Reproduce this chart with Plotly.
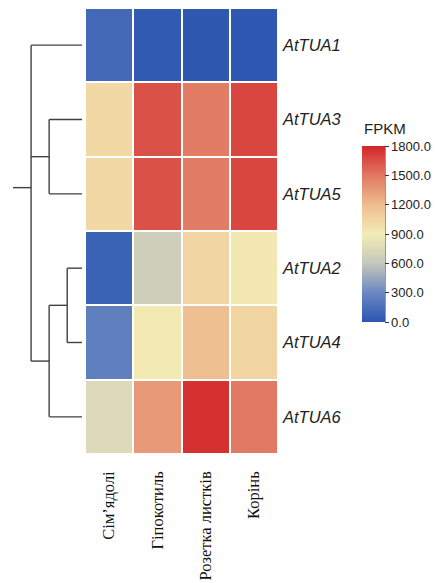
import plotly.graph_objects as go

# Expression data (FPKM) for alpha-tubulin genes across tissues
genes = ["AtTUA1", "AtTUA3", "AtTUA5", "AtTUA2", "AtTUA4", "AtTUA6"]
tissues = ["Сім’ядолі", "Гіпокотиль", "Розетка листків", "Корінь"]
fpkm_tua1 = [115, 30, 25, 20]
fpkm_tua3 = [1030, 1640, 1480, 1680]
fpkm_tua5 = [1030, 1640, 1480, 1680]
fpkm_tua2 = [80, 660, 1050, 930]
fpkm_tua4 = [245, 920, 1180, 1050]
fpkm_tua6 = [750, 1350, 1760, 1490]

# Hierarchical clustering of genes: merged groups and their linkage heights
merge_children = [
    ["AtTUA2", "AtTUA4"],
    ["AtTUA3", "AtTUA5"],
    ["AtTUA2+AtTUA4", "AtTUA6"],
    ["AtTUA1", "AtTUA3+AtTUA5", "AtTUA2+AtTUA4+AtTUA6"],
]
merge_heights = [0.9, 2.0, 2.0, 3.1]
root_stub = 1.1

cbar_ticks = [0, 300, 600, 900, 1200, 1500, 1800]

W, H = 436, 583


def px_x(p):
    return p / W


def px_y(p):
    return 1 - p / H


z = [fpkm_tua1, fpkm_tua3, fpkm_tua5, fpkm_tua2, fpkm_tua4, fpkm_tua6]

colorscale = [
    [0.0, "#2a55b0"],
    [1 / 6, "#6b88c2"],
    [2 / 6, "#c4c8bc"],
    [3 / 6, "#f3ecb6"],
    [4 / 6, "#eebd8e"],
    [5 / 6, "#e17762"],
    [1.0, "#d3262a"],
]

fig = go.Figure()

fig.add_trace(go.Heatmap(
    z=z,
    x=list(range(len(tissues))),
    y=list(range(len(genes))),
    zmin=0, zmax=1800,
    colorscale=colorscale,
    xgap=2, ygap=2,
    hoverinfo="z",
    colorbar=dict(
        x=px_x(362), xanchor="left", xpad=0,
        y=px_y(234), yanchor="middle", ypad=0,
        thickness=23, thicknessmode="pixels",
        len=176, lenmode="pixels",
        outlinewidth=0,
        tickvals=cbar_ticks,
        tickformat=".1f",
        ticks="outside", ticklen=4, tickwidth=1, tickcolor="#333",
        tickfont=dict(family="Liberation Sans, Arial", size=13, color="#222"),
    ),
))

# Dendrogram segments built from the linkage list
pos = {g: (0.0, i) for i, g in enumerate(genes)}
dx, dy = [], []
for children, h in zip(merge_children, merge_heights):
    ys = [pos[c][1] for c in children]
    for c in children:
        cx, cy = pos[c]
        dx += [cx, h, None]
        dy += [cy, cy, None]
    dx += [h, h, None]
    dy += [min(ys), max(ys), None]
    pos["+".join(children)] = (h, sum(ys) / len(ys))
root_h, root_y = pos["+".join(merge_children[-1])]
dx += [root_h, root_h + root_stub]
dy += [root_y, root_y]

fig.add_trace(go.Scatter(
    x=dx, y=dy, xaxis="x2", yaxis="y",
    mode="lines", line=dict(color="#404040", width=1.4),
    hoverinfo="skip", showlegend=False,
))

fig.update_layout(
    width=W, height=H,
    margin=dict(l=0, r=0, t=0, b=0),
    paper_bgcolor="white", plot_bgcolor="white",
    showlegend=False,
    xaxis=dict(
        domain=[px_x(85), px_x(278)],
        range=[-0.5, len(tissues) - 0.5],
        tickvals=list(range(len(tissues))), ticktext=tissues,
        tickangle=-90, ticks="", ticklabelstandoff=13,
        tickfont=dict(family="Liberation Serif, Times New Roman", size=16.5, color="#111"),
        showgrid=False, zeroline=False, showline=False, automargin=False,
        fixedrange=True,
    ),
    yaxis=dict(
        domain=[px_y(454), px_y(8)],
        range=[len(genes) - 0.5, -0.5],
        tickvals=list(range(len(genes))), ticktext=genes,
        side="right", ticks="", ticklabelstandoff=4,
        tickfont=dict(family="Liberation Sans, Arial", size=16.5, color="#222", style="italic"),
        showgrid=False, zeroline=False, showline=False, automargin=False,
        fixedrange=True,
    ),
    xaxis2=dict(
        domain=[px_x(13), px_x(82)],
        range=[root_h + root_stub, 0],
        anchor="y", visible=False, fixedrange=True,
    ),
    annotations=[dict(
        text="FPKM", x=px_x(362), y=px_y(128), xref="paper", yref="paper",
        xanchor="left", yanchor="middle", showarrow=False,
        font=dict(family="Liberation Sans, Arial", size=15, color="#222"),
    )],
    shapes=[dict(
        type="line", xref="paper", yref="paper",
        x0=px_x(385), x1=px_x(385), y0=px_y(322), y1=px_y(146),
        line=dict(color="#333", width=1),
    )],
)

fig.write_html("out.html")
